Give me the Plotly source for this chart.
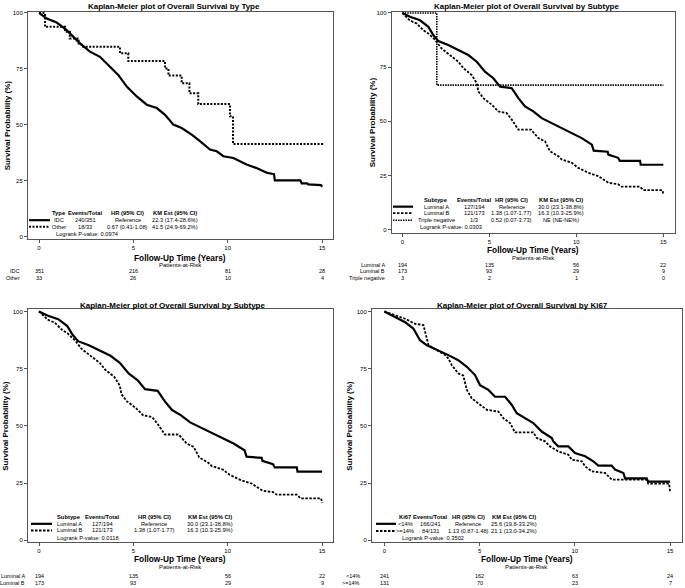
import plotly.graph_objects as go

W, H = 685, 588
FONT = "Liberation Sans"

# ---------------- data ----------------
risk_times = [0, 5, 10, 15]

# Panel 1: by Type
idc_t = [0, 0.41, 0.94, 1.47, 2.17, 2.70, 3.23, 3.76, 4.2, 4.65, 5.18, 5.71, 6.24, 6.68, 7.12, 7.56, 8.09,
         8.53, 9.06, 9.42, 9.77, 10.3, 11.0, 11.5, 12.07, 12.45, 12.5, 13.85, 13.92, 14.2, 14.27, 14.95, 15.0]
idc_s = [100, 97.5, 95.7, 92.3, 86.4, 82.7, 80.4, 76.0, 72.3, 67.1, 62.7, 59.0, 57.5, 54.5, 50.1, 48.6, 45.6,
         42.7, 39.0, 38.2, 36.0, 35.2, 32.3, 30.8, 28.6, 28.0, 25.2, 25.2, 23.9, 23.9, 23.4, 23.1, 22.3]
other_t = [0, 0.32, 1.38, 1.63, 2.1, 2.26, 4.29, 4.73, 6.68, 6.86, 7.56, 7.97, 8.44, 10.12, 10.28, 15.07]
other_s = [100, 93.8, 91.6, 88.6, 86.4, 84.9, 82.0, 78.5, 75.2, 72.0, 68.6, 64.1, 59.3, 53.8, 41.5, 41.5]

# Panels 2 & 3: by Subtype
luma_t = [0, 0.44, 1.02, 1.5, 1.78, 2.07, 2.64, 3.22, 3.79, 4.28, 4.75, 5.23, 5.62, 6.29, 6.67, 7.05, 7.53,
          8.01, 8.59, 9.16, 9.74, 10.31, 10.89, 11.0, 11.8, 11.84, 12.4, 12.5, 13.66, 13.7, 15.0]
luma_s = [100, 98.2, 96.6, 93.6, 89.8, 87.0, 85.2, 82.9, 80.6, 77.5, 72.9, 69.9, 66.0, 65.3, 60.7, 56.9, 54.6,
          51.5, 49.2, 46.9, 44.6, 42.3, 39.3, 36.5, 36.0, 34.7, 33.2, 31.8, 31.8, 30.0, 30.0]
lumb_t = [0, 0.44, 0.83, 1.21, 1.5, 1.88, 2.26, 2.74, 3.22, 3.51, 3.99, 4.28, 4.37, 4.66, 5.14, 5.52, 6.0,
          6.29, 6.67, 7.4, 7.82, 8.2, 8.49, 8.97, 9.16, 9.74, 10.1, 10.69, 11.26, 11.84, 12.41, 12.6, 13.66,
          13.85, 14.95, 15.0]
lumb_s = [100, 96.5, 95.1, 92.0, 90.5, 87.6, 83.6, 80.6, 77.5, 74.5, 71.4, 67.6, 63.8, 60.7, 57.7, 54.6, 53.8,
          50.8, 46.2, 46.2, 42.3, 40.8, 36.2, 33.9, 32.4, 30.9, 28.6, 26.3, 24.8, 21.7, 21.0, 19.9, 19.9,
          18.3, 18.3, 16.3]
tneg_t = [0, 1.98, 15.0]
tneg_s = [100, 66.7, 66.7]

# Panel 4: by Ki67
klow_t = [0, 0.56, 1.09, 1.52, 1.87, 2.23, 2.83, 3.36, 3.88, 4.33, 4.76, 5.02, 5.46, 5.81, 6.34, 6.69, 6.95,
          7.39, 7.82, 8.26, 8.79, 8.87, 9.13, 9.66, 10.01, 10.54, 10.97, 11.23, 11.93, 12.11, 12.55, 12.64,
          13.77, 13.85, 15.0]
klow_s = [100, 97.5, 95.3, 92.5, 87.4, 85.2, 83.0, 80.9, 78.7, 75.8, 72.2, 67.8, 65.7, 62.7, 62.7, 59.1, 55.5,
          53.3, 51.2, 47.5, 44.7, 43.2, 41.0, 41.0, 38.1, 36.7, 34.5, 32.6, 32.6, 30.9, 29.4, 27.0,
          27.0, 25.6, 25.6]
khigh_t = [0, 0.56, 1.09, 1.61, 2.05, 2.23, 2.32, 3.2, 3.36, 3.54, 3.88, 4.14, 4.33, 4.59, 4.93, 5.38, 5.99,
           6.25, 6.6, 6.86, 7.82, 8.0, 8.44, 8.7, 9.13, 9.66, 9.84, 10.37, 10.54, 10.89, 11.59, 11.76, 11.94,
           13.77, 13.85, 14.95, 15.0]
khigh_s = [100, 98.3, 96.8, 94.6, 94.0, 88.1, 85.2, 80.9, 79.4, 76.5, 72.9, 72.0, 65.7, 62.0, 59.9, 57.0, 56.2,
           53.3, 51.2, 47.1, 47.1, 44.7, 43.2, 41.0, 38.8, 37.4, 35.2, 34.5, 32.3, 30.1, 29.4, 28.0, 26.5,
           26.5, 24.8, 24.8, 21.1]

titles = ["Kaplan-Meier plot of Overall Survival by Type",
          "Kaplan-Meier plot of Overall Survival by Subtype",
          "Kaplan-Meier plot of Overall Survival by Subtype",
          "Kaplan-Meier plot of Overall Survival by Ki67"]

p1_groups = ["IDC", "Other"]
p1_risk = [[351, 216, 81, 28], [33, 26, 10, 4]]
p1_header = ["Type", "Events/Total", "HR (95% CI)", "KM Est (95% CI)"]
p1_rows = [["IDC", "240/351", "Reference", "22.3 (17.4-28.6%)"],
           ["Other", "18/33", "0.67 (0.41-1.08)", "41.5 (24.9-69.2%)"]]
p1_logrank = "Logrank P-value: 0.0974"

p2_groups = ["Luminal A", "Luminal B", "Triple negative"]
p2_risk = [[194, 135, 56, 22], [173, 93, 29, 9], [3, 2, 1, 0]]
p2_header = ["Subtype", "Events/Total", "HR (95% CI)", "KM Est (95% CI)"]
p2_rows = [["Luminal A", "127/194", "Reference", "30.0 (23.1-38.8%)"],
           ["Luminal B", "121/173", "1.38 (1.07-1.77)", "16.3 (10.3-25.9%)"],
           ["Triple negative", "1/3", "0.52 (0.07-3.73)", "NE (NE-NE%)"]]
p2_logrank = "Logrank P-value: 0.0303"

p3_groups = ["Luminal A", "Luminal B"]
p3_risk = [[194, 135, 56, 22], [173, 93, 29, 9]]
p3_header = ["Subtype", "Events/Total", "HR (95% CI)", "KM Est (95% CI)"]
p3_rows = [["Luminal A", "127/194", "Reference", "30.0 (23.1-38.8%)"],
           ["Luminal B", "121/173", "1.38 (1.07-1.77)", "16.3 (10.3-25.9%)"]]
p3_logrank = "Logrank P-value: 0.0118"

p4_groups = ["<14%", ">=14%"]
p4_risk = [[241, 162, 63, 24], [131, 70, 23, 7]]
p4_header = ["Ki67", "Events/Total", "HR (95% CI)", "KM Est (95% CI)"]
p4_rows = [["<14%", "166/241", "Reference", "25.6 (19.8-33.2%)"],
           [">=14%", "84/131", "1.13 (0.87-1.48)", "21.1 (13.0-34.2%)"]]
p4_logrank = "Logrank P-value: 0.3502"

# ---------------- layout helpers (pixel -> paper) ----------------
def PX(x):
    return x / W

def PY(y):
    return 1 - y / H

SOLID = dict(color="black", width=2.2, dash="solid")
DOTTED = dict(color="black", width=2, dash="2px,1.5px")
DASHED = dict(color="black", width=1.8, dash="2.5px,1.5px")
FINEDOT = dict(color="black", width=1.6, dash="1.5px,1px")

panels = [
    dict(dom_x=(28, 333), dom_y=(10, 238), xr=(-0.583, 15.58), yr=(-0.89, 100.44),
         title_x=174, title_y=5, ytitle_x=7, xt_y=257, par_y=264, risk_y=[270, 277], lab_x=22,
         groups=p1_groups, risk=p1_risk, header=p1_header, rows=p1_rows, logrank=p1_logrank,
         cols=[59, 85, 128, 175], hdr_y=212.3, row_y=[219.3, 226.0], lr_y=233.3, lr_x=54,
         samp_x=(29, 50), curves=[(idc_t, idc_s, SOLID, "linear"), (other_t, other_s, DOTTED, "hv")],
         samp_styles=[SOLID, DOTTED]),
    dict(dom_x=(391.7, 675), dom_y=(10, 231.7), xr=(-0.61, 15.67), yr=(-1.24, 100.46),
         title_x=526, title_y=5, ytitle_x=372, xt_y=249, par_y=257.5, risk_y=[264, 270.5, 277], lab_x=386.5,
         groups=p2_groups, risk=p2_risk, header=p2_header, rows=p2_rows, logrank=p2_logrank,
         cols=[436, 474, 512, 561], hdr_y=199, row_y=[205.7, 212.3, 219.3], lr_y=226, lr_x=418,
         samp_x=(393, 413), curves=[(luma_t, luma_s, SOLID, "linear"), (lumb_t, lumb_s, DASHED, "linear"),
                                    (tneg_t, tneg_s, FINEDOT, "hv")],
         samp_styles=[SOLID, DASHED, FINEDOT]),
    dict(dom_x=(28, 333), dom_y=(309, 543), xr=(-0.583, 15.58), yr=(-0.87, 100.87),
         title_x=172, title_y=305, ytitle_x=6, xt_y=560, par_y=568, risk_y=[577, 584], lab_x=27,
         groups=p3_groups, risk=p3_risk, header=p3_header, rows=p3_rows, logrank=p3_logrank,
         cols=[69, 102, 154, 210], hdr_y=517.5, row_y=[524.5, 531.2], lr_y=538.5, lr_x=55,
         samp_x=(31, 52), curves=[(luma_t, luma_s, SOLID, "linear"), (lumb_t, lumb_s, DASHED, "linear")],
         samp_styles=[SOLID, DASHED]),
    dict(dom_x=(372, 681.5), dom_y=(309, 543), xr=(-0.65, 15.6), yr=(-0.87, 100.87),
         title_x=522, title_y=305, ytitle_x=350, xt_y=560, par_y=568, risk_y=[577, 584], lab_x=362,
         groups=p4_groups, risk=p4_risk, header=p4_header, rows=p4_rows, logrank=p4_logrank,
         cols=[405, 430, 468, 514], hdr_y=517.7, row_y=[524.5, 531.7], lr_y=538.3, lr_x=400,
         samp_x=(376, 396), curves=[(klow_t, klow_s, SOLID, "linear"), (khigh_t, khigh_s, DASHED, "linear")],
         samp_styles=[SOLID, DASHED]),
]

fig = go.Figure()
annotations = []
shapes = []
layout = dict(width=W, height=H, margin=dict(l=0, r=0, t=0, b=0), paper_bgcolor="white",
              plot_bgcolor="white", showlegend=False, font=dict(family=FONT, color="black"))

def txt(text, x, y, size, bold=False, xanchor="center", xref="paper", textangle=0):
    annotations.append(dict(
        text=("<b>%s</b>" % text) if bold else text,
        x=x if xref != "paper" else PX(x), y=PY(y), xref=xref, yref="paper",
        xanchor=xanchor, yanchor="middle", showarrow=False, textangle=textangle,
        font=dict(size=size, family=FONT, color="black")))

for i, p in enumerate(panels):
    n = i + 1
    xa = "xaxis" if n == 1 else "xaxis%d" % n
    ya = "yaxis" if n == 1 else "yaxis%d" % n
    xref = "x" if n == 1 else "x%d" % n
    yref = "y" if n == 1 else "y%d" % n
    axis_common = dict(showline=True, mirror=True, linecolor="#555", linewidth=1, ticks="outside",
                       ticklen=3, tickwidth=1, tickcolor="#555", showgrid=False, zeroline=False,
                       tickfont=dict(size=6, family=FONT, color="black"))
    layout[xa] = dict(domain=[PX(p["dom_x"][0]), PX(p["dom_x"][1])], range=list(p["xr"]),
                      tickvals=risk_times, anchor=yref, **axis_common)
    layout[ya] = dict(domain=[PY(p["dom_y"][1]), PY(p["dom_y"][0])], range=list(p["yr"]),
                      tickvals=[0, 25, 50, 75, 100], anchor=xref, **axis_common)

    for (t, s, style, shape) in p["curves"]:
        fig.add_trace(go.Scatter(x=t, y=s, mode="lines", line=dict(**style, shape=shape),
                                 xaxis=xref, yaxis=yref, hoverinfo="skip"))

    # titles
    txt(titles[i], p["title_x"], p["title_y"], 8, bold=True)
    cx = (p["dom_x"][0] + p["dom_x"][1]) / 2
    cy = (p["dom_y"][0] + p["dom_y"][1]) / 2
    txt("Follow-Up Time (Years)", cx, p["xt_y"], 8.3, bold=True)
    txt("Patients-at-Risk", cx, p["par_y"], 6)
    txt("Survival Probability (%)", p["ytitle_x"], cy, 8, bold=True, textangle=-90)

    # at-risk table
    for g, vals, yy in zip(p["groups"], p["risk"], p["risk_y"]):
        txt(g, p["lab_x"], yy, 5.5, xanchor="right")
        for tv, v in zip(risk_times, vals):
            txt(str(v), tv, yy, 5.5, xref=xref)

    # inset legend table
    for c, h in zip(p["cols"], p["header"]):
        txt(h, c, p["hdr_y"], 5.8, bold=True)
    for row, yy, st in zip(p["rows"], p["row_y"], p["samp_styles"]):
        for c, v in zip(p["cols"], row):
            txt(v, c, yy, 5.7)
        shapes.append(dict(type="line", xref="paper", yref="paper",
                           x0=PX(p["samp_x"][0]), x1=PX(p["samp_x"][1]), y0=PY(yy), y1=PY(yy),
                           line=dict(color="black", width=st["width"], dash=st["dash"])))
    txt(p["logrank"], p["lr_x"], p["lr_y"], 5.7, xanchor="left")

layout["annotations"] = annotations
layout["shapes"] = shapes
fig.update_layout(**layout)
fig.write_html("out.html", config={"displayModeBar": False, "staticPlot": True},
               post_script="document.body.style.margin='0';document.body.style.padding='0';")
